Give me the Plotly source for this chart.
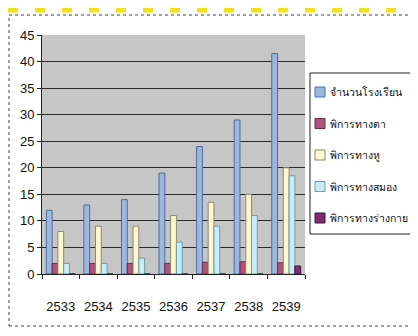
import plotly.graph_objects as go

# the page body has an 8px margin, so the figure is drawn 8px smaller
OFF = 8
W, H = 418 - OFF, 336 - OFF

years = ["2533", "2534", "2535", "2536", "2537", "2538", "2539"]

series_names = [
    "จำนวนโรงเรียน",
    "พิการทางตา",
    "พิการทางหู",
    "พิการทางสมอง",
    "พิการทางร่างกาย",
]

schools = [12, 13, 14, 19, 24, 29, 41.5]
blind = [2, 2, 2, 2, 2.2, 2.3, 2.1]
deaf = [8, 9, 9, 11, 13.5, 15, 20]
mental = [2, 2, 3, 6, 9, 11, 18.5]
physical = [0, 0, 0, 0, 0, 0, 1.5]

y_ticks = list(range(0, 50, 5))

fills = ["#9db8de", "#b0527f", "#fff7cf", "#c8edf7", "#7b2d6f"]
edges = ["#4d6d9c", "#6a2a4a", "#8c8a70", "#6c9cab", "#3e1538"]

# plot area in screen pixels (left, right, top, bottom)
L, R, T, B = 42, 305, 35, 274


def px_x(px):
    return (px - L) / (R - L)


def px_y(py):
    return (B - py) / (B - T)


fig = go.Figure()
for i, (name, vals) in enumerate(zip(series_names, [schools, blind, deaf, mental, physical])):
    fig.add_trace(go.Bar(
        name=name,
        x=years,
        y=vals,
        marker=dict(color=fills[i], line=dict(color=edges[i], width=1)),
        showlegend=False,
    ))

fig.update_layout(
    width=W,
    height=H,
    margin=dict(l=L - OFF, r=W + OFF - R, t=T - OFF, b=H + OFF - B, autoexpand=False),
    paper_bgcolor="white",
    plot_bgcolor="#c6c6c6",
    barmode="group",
    bargap=0.23,
    bargroupgap=0,
    font=dict(family="Liberation Sans Narrow, Liberation Sans, sans-serif", size=13, color="#111"),
)

fig.update_xaxes(
    type="category",
    tickson="boundaries",
    ticks="outside",
    ticklen=4,
    tickcolor="#222",
    tickangle=0,
    showline=True,
    linecolor="#222",
    ticklabelstandoff=20,
    showgrid=False,
    automargin=False,
)

fig.update_yaxes(
    range=[0, 45],
    tickvals=y_ticks,
    ticks="outside",
    ticklen=4,
    tickcolor="#222",
    showline=True,
    linecolor="#222",
    gridcolor="#2a2a2a",
    gridwidth=1,
    zeroline=False,
    automargin=False,
)

# dotted chart-area border
fig.add_shape(
    type="rect", xref="paper", yref="paper",
    x0=px_x(9), x1=px_x(416), y0=px_y(326), y1=px_y(15),
    line=dict(color="#444", width=1, dash="dot"),
    layer="below",
)

# yellow dashes along the top edge of the scanned page
fig.add_shape(
    type="line", xref="paper", yref="paper",
    x0=px_x(OFF), x1=px_x(418), y0=px_y(10), y1=px_y(10),
    line=dict(color="#f4e11c", width=5, dash="10px,17px"),
)

# legend box, drawn by hand so the long Thai labels fit
fig.add_shape(
    type="rect", xref="paper", yref="paper",
    x0=px_x(310), x1=px_x(420), y0=px_y(234), y1=px_y(73),
    line=dict(color="#222", width=1),
    fillcolor="white",
)
for i, name in enumerate(series_names):
    cy = 92 + i * 31.5
    fig.add_shape(
        type="rect", xref="paper", yref="paper",
        x0=px_x(315), x1=px_x(325), y0=px_y(cy + 5), y1=px_y(cy - 5),
        line=dict(color=edges[i], width=1),
        fillcolor=fills[i],
    )
    fig.add_annotation(
        xref="paper", yref="paper",
        x=px_x(328), y=px_y(cy),
        xanchor="left", yanchor="middle",
        text=name, showarrow=False,
        font=dict(size=10.5, color="#111"),
    )

fig.write_html("out.html")
